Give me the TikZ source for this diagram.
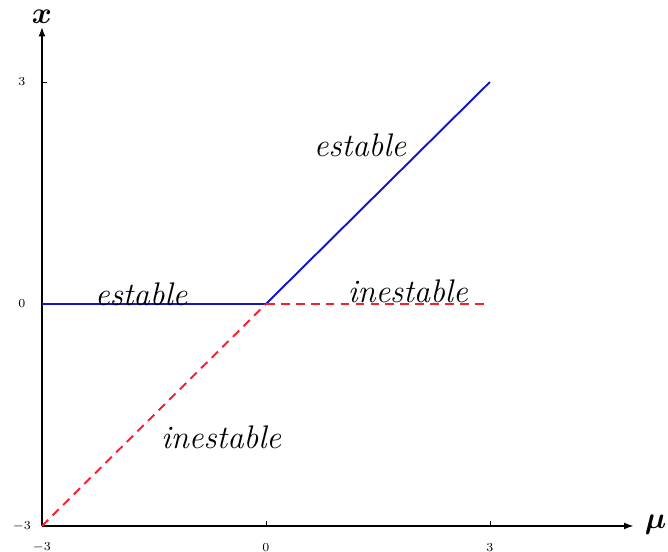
\documentclass[tikz,border=0pt]{standalone}
\usepackage{amsmath,amssymb}
\usepackage{xcolor}
\usetikzlibrary{arrows.meta,positioning,calc}

\definecolor{stabblue}{RGB}{20,20,205}
\definecolor{unstred}{RGB}{250,30,45}

\begin{document}
\begin{tikzpicture}[
  x=1.4933cm, y=1.48cm,
  axis/.style={line width=1.1pt,-{Latex[length=2mm,width=1.4mm]}},
  tick/.style={line width=0.3pt},
  ticklbl/.style={font=\scriptsize,inner sep=1pt},
  stab/.style={stabblue,line width=1.1pt},
  unst/.style={unstred,line width=1.1pt,dash pattern=on 5pt off 3.5pt},
  lbl/.style={font=\fontsize{18.6}{22}\selectfont\itshape,inner sep=1pt},
]
\useasboundingbox (-3.562,-3.351) rectangle (5.385,4.108);
% axes
\coordinate (o) at (-3,-3);
\coordinate (xend) at (4.93,-3);
\coordinate (yend) at (-3,3.75);
\coordinate (zero) at (0,0);
\draw[axis] (o) -- (xend);
\draw[axis] (o) -- (yend);
\node[font=\LARGE] (mu) at (5.22,-2.98) {$\boldsymbol{\mu}$};
\node[font=\LARGE] (xlbl) at (-3,3.88) {$\boldsymbol{x}$};
% ticks
\foreach \v in {-3,0,3}{
  \draw[tick] (\v,-3) -- ++(0,0.07);
  \node[ticklbl] (tx\v) at (\v,-3.29) {$\v$};
  \draw[tick] (-3,\v) -- ++(0.07,0);
  \node[ticklbl] (ty\v) at (-3.27,\v) {$\v$};
}
% branches
\coordinate (lft) at (-3,0);
\coordinate (rgt) at (3,0);
\coordinate (top) at (3,3);
\draw[stab] (lft) -- (zero);
\draw[stab] (zero) -- (top);
\draw[unst] (zero) -- (rgt);
\draw[unst] (o) -- (zero);
% labels
\node[lbl] (s1) at (1.26,2.15) {estable};
\node[lbl] (s2) at (-1.67,0.13) {estable};
\node[lbl] (u1) at (1.9,0.17) {inestable};
\node[lbl] (u2) at (-0.6,-1.8) {inestable};
\end{tikzpicture}
\end{document}
